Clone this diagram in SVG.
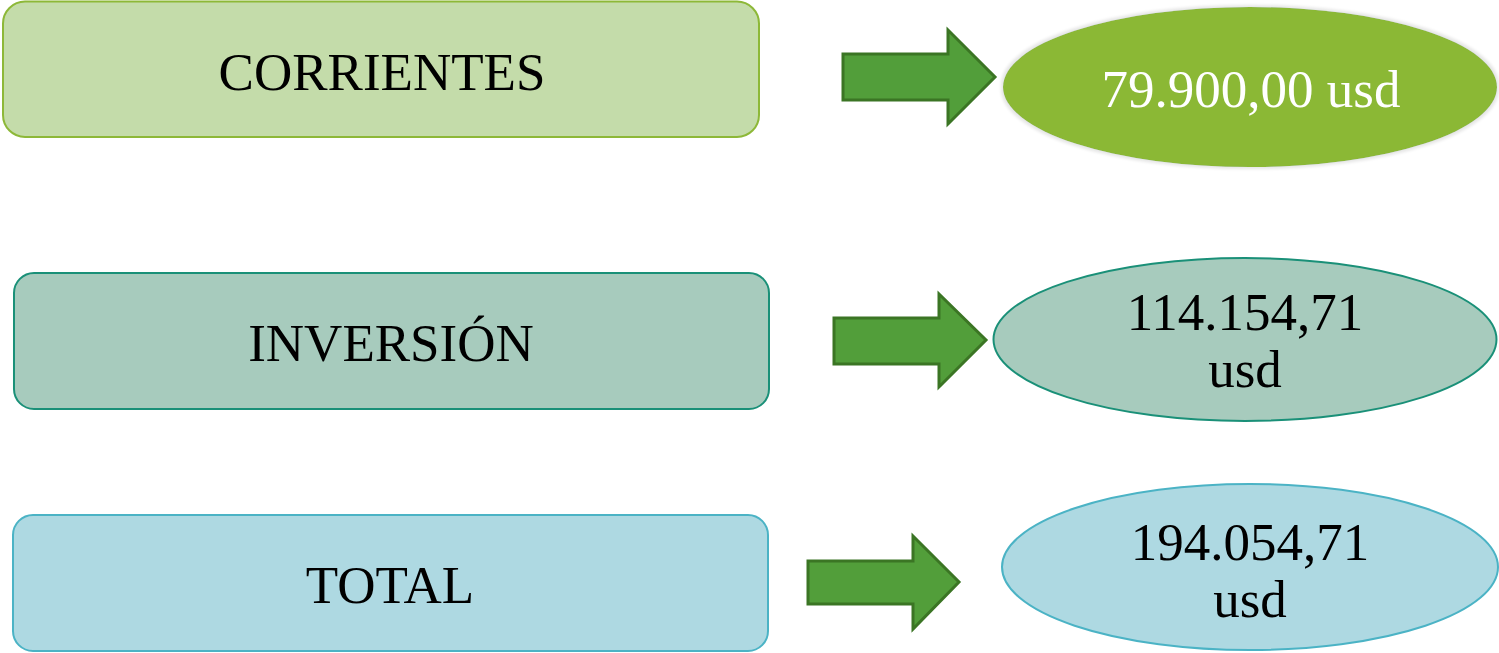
<svg xmlns="http://www.w3.org/2000/svg" width="1499" height="653" viewBox="0 0 1499 653">
<defs>
<style>
.t{font-family:"Liberation Serif","DejaVu Serif",serif;font-size:53px;text-anchor:middle;fill:#000}
.w{fill:#fff}
.arr{fill:#529e3a;stroke:#3b7524;stroke-width:3;stroke-linejoin:miter}
</style>
<filter id="glow" x="-5%" y="-10%" width="110%" height="120%">
<feMorphology in="SourceAlpha" operator="dilate" radius="2" result="d"/>
<feGaussianBlur in="d" stdDeviation="1.5" result="b"/>
<feFlood flood-color="#e6e6e6"/>
<feComposite in2="b" operator="in" result="g"/>
<feMerge><feMergeNode in="g"/><feMergeNode in="SourceGraphic"/></feMerge>
</filter>
</defs>
<rect width="1499" height="653" fill="#fff"/>
<g id="corrientes">
<rect x="3" y="1.5" width="756" height="135.5" rx="22" fill="#c4dcaa" stroke="#8db838" stroke-width="2"/>
<text class="t" x="382" y="90">CORRIENTES</text>
</g>
<g id="inversion">
<rect x="14" y="273" width="755" height="136" rx="20" fill="#a7cbbd" stroke="#1a9078" stroke-width="2"/>
<text class="t" x="391" y="361">INVERSIÓN</text>
</g>
<g id="total">
<rect x="13" y="515" width="755" height="136" rx="20" fill="#aed9e2" stroke="#4bb3c5" stroke-width="2"/>
<text class="t" x="390" y="603">TOTAL</text>
</g>
<g id="val-corrientes">
<ellipse cx="1250" cy="87" rx="247" ry="80" fill="#8bb834" filter="url(#glow)"/>
<text class="t w" x="1251" y="107">79.900,00 usd</text>
</g>
<g id="val-inversion">
<ellipse cx="1245" cy="339.5" rx="251.5" ry="81.5" fill="#a7cbbd" stroke="#1a9078" stroke-width="2"/>
<text class="t" x="1245" y="330">114.154,71</text>
<text class="t" x="1245" y="387">usd</text>
</g>
<g id="val-total">
<ellipse cx="1250" cy="567" rx="248" ry="83" fill="#aed9e2" stroke="#4bb3c5" stroke-width="2"/>
<text class="t" x="1250" y="560">194.054,71</text>
<text class="t" x="1250" y="617">usd</text>
</g>
<g id="connectors">
<polygon class="arr" points="843,54 948,54 948,30 995,77 948,124 948,100 843,100"/>
<polygon class="arr" points="834,318 939,318 939,294 986,340 939,387 939,364 834,364"/>
<polygon class="arr" points="808,561 913,561 913,536 959,582 913,629 913,604 808,604"/>
</g>
</svg>
